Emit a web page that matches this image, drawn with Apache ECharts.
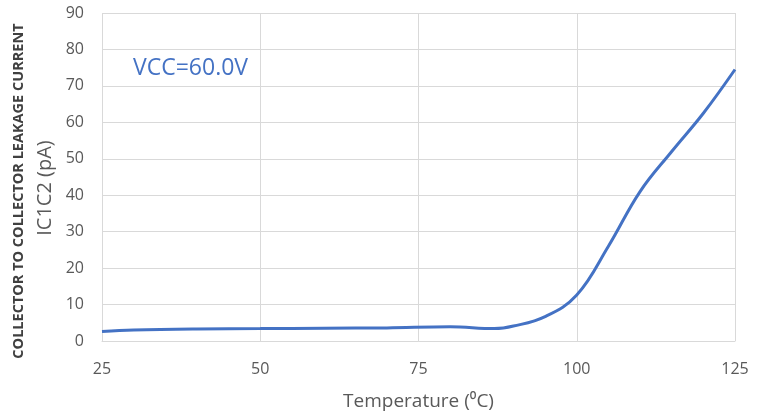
<!DOCTYPE html>
<html>
<head>
<meta charset="utf-8">
<script src="https://cdn.jsdelivr.net/npm/echarts@6/dist/echarts.min.js"></script>
<style>html,body{margin:0;padding:0;background:#fff}#c{width:765px;height:416px}</style>
</head>
<body>
<div id="c"></div>
<script>
const temperatures = [25, 30, 40, 50, 60, 70, 80, 87, 90, 95, 100, 105, 110, 115, 120, 125];
const leakagePA =    [2.6, 3.0, 3.3, 3.4, 3.5, 3.6, 3.9, 3.4, 4.1, 6.7, 12.6, 26, 41, 52, 62.5, 74.5];
const xTicks = [25, 50, 75, 100, 125];
const yTicks = [0, 10, 20, 30, 40, 50, 60, 70, 80, 90];
const xTitle = 'Temperature (⁰C)';
const yTitleBold = 'COLLECTOR TO COLLECTOR LEAKAGE CURRENT';
const yTitle = 'IC1C2 (pA)';
const note = 'VCC=60.0V';

const font = '"Open Sans", sans-serif';
const chart = echarts.init(document.getElementById('c'), null, {renderer: 'canvas'});
chart.setOption({
  animation: false,
  grid: {left: 102, right: 30, top: 13, bottom: 72.5},
  xAxis: {
    type: 'value', min: xTicks[0], max: xTicks[xTicks.length - 1], interval: 25,
    axisLine: {show: true, lineStyle: {color: '#d9d9d9', width: 1}},
    axisTick: {show: false},
    splitLine: {show: true, lineStyle: {color: '#d9d9d9', width: 1}},
    axisLabel: {color: '#595959', fontSize: 16, fontFamily: font, margin: 20},
    name: xTitle, nameLocation: 'middle', nameGap: 51,
    nameTextStyle: {color: '#595959', fontSize: 19, fontFamily: font}
  },
  yAxis: {
    type: 'value', min: yTicks[0], max: yTicks[yTicks.length - 1], interval: 10,
    axisLine: {show: false},
    axisTick: {show: false},
    splitLine: {show: true, lineStyle: {color: '#d9d9d9', width: 1}},
    axisLabel: {color: '#595959', fontSize: 16, fontFamily: font, margin: 18}
  },
  graphic: [
    {type: 'text', x: 19, y: 191, rotation: Math.PI / 2,
      style: {text: yTitleBold, fill: '#404040', font: 'bold 14.5px ' + font, textAlign: 'center', textVerticalAlign: 'middle'}},
    {type: 'text', x: 45, y: 188, rotation: Math.PI / 2,
      style: {text: yTitle, fill: '#595959', font: '20px ' + font, textAlign: 'center', textVerticalAlign: 'middle'}},
    {type: 'text', x: 133, y: 68,
      style: {text: note, fill: '#4472C4', font: '23px ' + font, textAlign: 'left', textVerticalAlign: 'middle'}}
  ],
  series: [{
    type: 'line',
    data: temperatures.map((t, i) => [t, leakagePA[i]]),
    smooth: 0.4,
    showSymbol: false,
    lineStyle: {color: '#4472C4', width: 3}
  }]
});
</script>
</body>
</html>
